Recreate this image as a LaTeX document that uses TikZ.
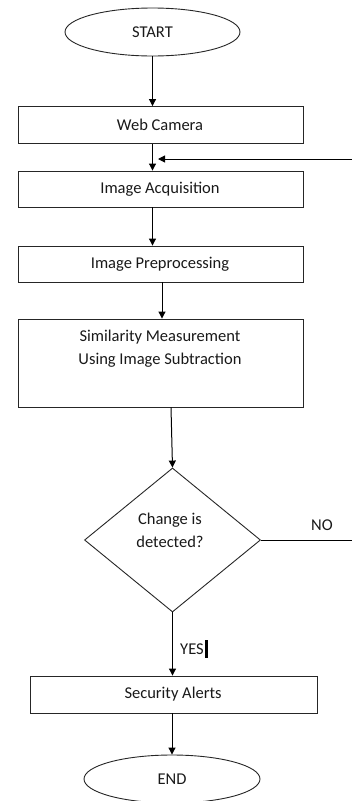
\documentclass[tikz,border=0pt]{standalone}
\usepackage{fontspec}
\setmainfont{Carlito}
\usetikzlibrary{shapes.geometric,arrows.meta}
\tikzset{
  box/.style={draw=black!85, line width=0.9pt, rectangle, inner sep=0pt},
  term/.style={draw=black!85, line width=0.9pt, ellipse, inner sep=0pt},
  dia/.style={draw=black!85, line width=0.9pt, diamond, inner sep=0pt},
  txt/.style={font=\fontsize{16.5}{23}\selectfont, text=black!90, align=center, inner sep=0pt},
  arr/.style={line width=1pt, -{Triangle[length=7pt,width=7pt]}},
  ln/.style={line width=1pt}
}
\begin{document}
\begin{tikzpicture}[x=1pt,y=-1pt]
\useasboundingbox (0,0) rectangle (352,801);
\node[term, minimum width=175pt, minimum height=48pt] (start) at (152.5,32) {};
\node[txt] (startT) at (152.5,32) {START};
\node[box, minimum width=285pt, minimum height=37pt] (web) at (160.5,125) {};
\node[txt] (webT) at (160,125) {Web Camera};
\node[box, minimum width=285pt, minimum height=36pt] (acq) at (160.5,189) {};
\node[txt] (acqT) at (160,189) {Image Acquisition};
\node[box, minimum width=285pt, minimum height=36pt] (pre) at (160.5,264) {};
\node[txt] (preT) at (160,264) {Image Preprocessing};
\node[box, minimum width=285pt, minimum height=88pt] (sim) at (160.5,363) {};
\node[txt] (simT) at (160,348.5) {Similarity Measurement\\Using Image Subtraction};
\node[dia, minimum width=176pt, minimum height=144pt] (dec) at (172.5,540) {};
\node[txt] (decT) at (170,530) {Change is\\detected?};
\node[box, minimum width=287pt, minimum height=37pt] (alert) at (173.5,694.5) {};
\node[txt] (alertT) at (173,694.5) {Security Alerts};
\node[term, minimum width=176pt, minimum height=48pt] (end) at (172,779) {};
\node[txt] (endT) at (172,779) {END};
\node[txt] (no) at (322,525) {NO};
\node[txt] (yes) at (192,649) {YES};
\draw[line width=2.6pt] (206.5,640) -- (206.5,658);

\coordinate (loopB) at (356,540);
\coordinate (loopT) at (356,159);
\coordinate (fbend) at (158,159);

\draw[arr] (start.south) -- (start.south |- web.north);
\draw[arr] (web.south -| start.south) -- (acq.north -| start.south);
\draw[arr] (acq.south -| start.south) -- (pre.north -| start.south);
\draw[arr] (pre.south -| 162,0) -- (sim.north -| 162,0);
\draw[arr] (sim.south -| 171,0) -- (dec.north);
\draw[arr] (dec.south) -- (dec.south |- alert.north);
\draw[arr] (alert.south -| end.north) -- (end.north);
\draw[ln] (dec.east) -- (loopB) -- (loopT);
\draw[arr] (loopT) -- (fbend);
\end{tikzpicture}
\end{document}
